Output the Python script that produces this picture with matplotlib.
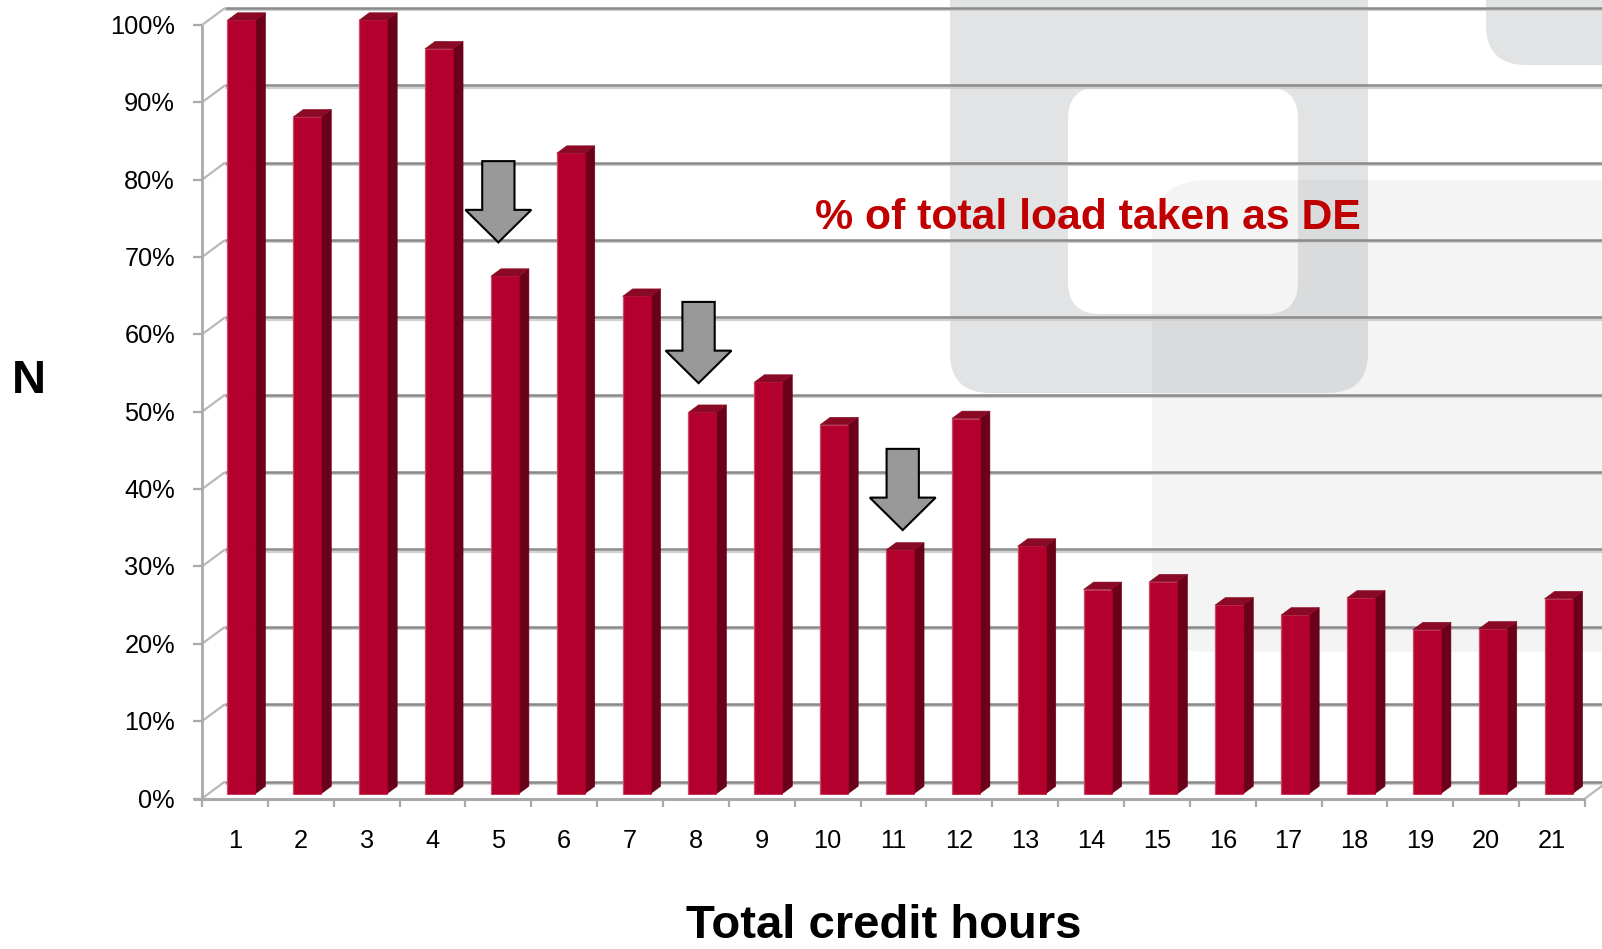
import matplotlib
matplotlib.use("Agg")
import matplotlib.pyplot as plt
from matplotlib.patches import Polygon, FancyBboxPatch
from matplotlib.transforms import IdentityTransform
from matplotlib.lines import Line2D

# ---------------- data ----------------
categories = list(range(1, 22))
share_de = [100, 87.5, 100, 96.3, 66.9, 82.8, 64.3, 49.3, 53.2, 47.7, 31.5,
            48.5, 32.0, 26.4, 27.4, 24.4, 23.1, 25.3, 21.2, 21.3, 25.2]
y_ticks = list(range(0, 101, 10))
y_tick_labels = [f"{t}%" for t in y_ticks]
x_tick_labels = [str(c) for c in categories]
arrow_x = [5.0, 8.04, 11.14]
arrow_top = [82.4, 64.2, 45.2]
arrow_tip = [71.9, 53.7, 34.7]

title_text = "% of total load taken as DE"
x_title = "Total credit hours"
y_title = "N"

# ---------------- figure ----------------
W, H, DPI = 1602, 949, 100
FONT = "Liberation Sans"
fig = plt.figure(figsize=(W / DPI, H / DPI), dpi=DPI)
fig.patch.set_facecolor("white")

# background watermark (pixel space)
bg = fig.add_axes([0, 0, 1, 1], zorder=0)
bg.set_xlim(0, W)
bg.set_ylim(H, 0)
bg.axis("off")


def rbox(x0, y0, x1, y1, r, color, alpha=1.0):
    bg.add_patch(FancyBboxPatch((x0 + r, y0 + r), (x1 - x0) - 2 * r, (y1 - y0) - 2 * r,
                                boxstyle=f"round,pad={r}", fc=color, ec="none",
                                alpha=alpha))


rbox(950, -80, 1368, 393, 40, "#e2e3e5")
rbox(1068, 87, 1298, 314, 32, "white")
rbox(1486, -80, 1720, 65, 40, "#e2e3e5")
rbox(1152, 180, 1660, 652, 55, "#7f7f7f", alpha=0.08)

# main axes = front plane of the 3-D box
L, R, YT, YB = 202, 1585, 25, 798.5
ax = fig.add_axes([L / W, 1 - YB / H, (R - L) / W, (YB - YT) / H], zorder=1)
ax.set_xlim(0.5, 21.5)
ax.set_ylim(0, 100)
ax.axis("off")
ax.patch.set_visible(False)

DX, DY = 23.0, 17.0  # depth offset (px) from front to back wall
ID = IdentityTransform()


def P(x, v, d):
    px, py = ax.transData.transform((x, v))
    return (px + DX * d, py + DY * d)


def line(p, q, color, lw, z, dy=0.0):
    ax.add_line(Line2D([p[0], q[0]], [p[1] + dy, q[1] + dy], color=color, lw=lw,
                       transform=ID, clip_on=False, zorder=z,
                       solid_capstyle="butt"))


grid_c = "#8a8a8a"
axis_c = "#aaaaaa"
for t in y_ticks:
    a = P(0.5, t, 1)
    b = P(23.0, t, 1)
    line(a, b, "#d0d0d0", 1.5, 1, dy=-2.3)
    line(a, b, grid_c, 1.8, 2)
    # left wall diagonal
    line(P(0.5, t, 0), a, "#b8b8b8", 1.6, 2)
    f = P(0.5, t, 0)
    line((f[0] - 9, f[1]), f, axis_c, 1.6, 2)

# front vertical axis
line(P(0.5, 0, 0), P(0.5, 100, 0), axis_c, 2.0, 2)
# floor front edge + right diagonal
f0 = P(0.5, 0, 0)
line((f0[0] - 9, f0[1]), P(21.5, 0, 0), axis_c, 2.2, 3)
line(P(21.5, 0, 0), P(21.5, 0, 1), "#b8b8b8", 1.6, 3)
for k in range(len(categories) + 1):
    p = P(0.5 + k, 0, 0)
    line(p, (p[0], p[1] - 8), axis_c, 1.6, 3)

# bars
BW = 0.425
D1, D2 = 0.28, 0.72
c_front, c_side, c_top = "#B3002D", "#6B0019", "#8A0A25"
for x, v in zip(categories, share_de):
    xl, xr = x - BW / 2, x + BW / 2
    front = [P(xl, 0, D1), P(xr, 0, D1), P(xr, v, D1), P(xl, v, D1)]
    side = [P(xr, 0, D1), P(xr, 0, D2), P(xr, v, D2), P(xr, v, D1)]
    top = [P(xl, v, D1), P(xr, v, D1), P(xr, v, D2), P(xl, v, D2)]
    for poly, c in ((side, c_side), (top, c_top), (front, c_front)):
        ax.add_patch(Polygon(poly, closed=True, fc=c, ec=c, lw=0.4,
                             transform=ID, clip_on=False, zorder=5))
    line(front[0], front[3], "#cc4a68", 0.9, 6)

# arrows (front-plane data coords)
HS, HH, HL = 0.245, 0.5, 4.2
for x, top, tip in zip(arrow_x, arrow_top, arrow_tip):
    base = tip + HL
    verts = [(x - HS, top), (x + HS, top), (x + HS, base), (x + HH, base),
             (x, tip), (x - HH, base), (x - HS, base)]
    ax.add_patch(Polygon(verts, closed=True, fc="#999999", ec="black", lw=1.5,
                         joinstyle="miter", clip_on=False, zorder=8))

# tick labels
for t, lab in zip(y_ticks, y_tick_labels):
    py = ax.transData.transform((0.5, t))[1]
    fig.text(175 / W, (py - 9) / H, lab, ha="right", va="baseline",
             fontsize=18.3, family=FONT, color="black")
for c, lab in zip(categories, x_tick_labels):
    px = ax.transData.transform((c, 0))[0]
    fig.text(px / W, 1 - 848 / H, lab, ha="center", va="baseline",
             fontsize=18.3, family=FONT, color="black")

fig.text(29 / W, 1 - 393 / H, y_title, ha="center", va="baseline",
         fontsize=34, weight="bold", family=FONT)
fig.text(884 / W, 1 - 938 / H, x_title, ha="center", va="baseline",
         fontsize=34, weight="bold", family=FONT)
fig.text(815 / W, 1 - 229 / H, title_text, ha="left", va="baseline",
         fontsize=30.8, weight="bold", family=FONT, color="#C00000")

fig.savefig("out.png", dpi=DPI)
